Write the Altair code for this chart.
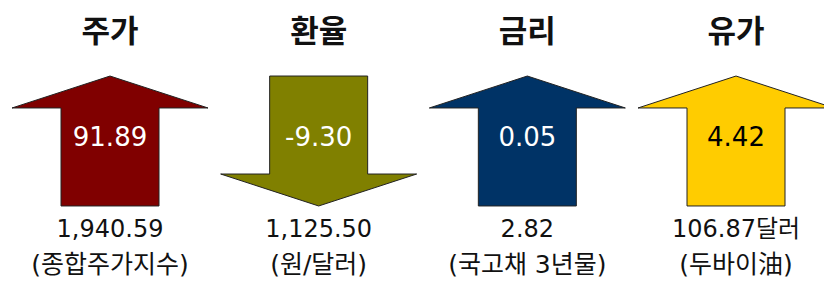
import altair as alt
import pandas as pd

names = ["주가", "환율", "금리", "유가"]
changes = [91.89, -9.30, 0.05, 4.42]
change_labels = ["91.89", "-9.30", "0.05", "4.42"]
levels = ["1,940.59", "1,125.50", "2.82", "106.87달러"]
units = ["(종합주가지수)", "(원/달러)", "(국고채 3년물)", "(두바이油)"]
fill_colors = ["#800000", "#808000", "#003366", "#FFCC00"]
text_colors = ["#ffffff", "#ffffff", "#ffffff", "#000000"]

df = pd.DataFrame({
    "idx": list(range(len(names))),
    "name": names,
    "change": changes,
    "change_label": change_labels,
    "level": levels,
    "unit": units,
    "dir": ["up" if c >= 0 else "down" for c in changes],
})

UP = "M0,-0.663L1,-0.337L0.5,-0.337L0.5,0.663L-0.5,0.663L-0.5,-0.337L-1,-0.337Z"
DOWN = "M0,0.663L1,0.337L0.5,0.337L0.5,-0.663L-0.5,-0.663L-0.5,0.337L-1,0.337Z"

TFONT = "DejaVu Sans, Noto Sans CJK KR"
LFONT = "DejaVu Sans, Noto Sans CJK KR"
x = alt.X("idx:Q", scale=alt.Scale(domain=[0, 3], range=[102, 728]), axis=None)

base = alt.Chart(df)

arrows = base.mark_point(filled=True, opacity=1, stroke="#222222", strokeWidth=1).encode(
    x=x,
    y=alt.value(133),
    shape=alt.Shape("dir:N", scale=alt.Scale(domain=["up", "down"], range=[UP, DOWN]), legend=None),
    fill=alt.Fill("name:N", scale=alt.Scale(domain=names, range=fill_colors), legend=None),
    size=alt.value(196 * 196),
)

titles = base.mark_text(font=TFONT, fontSize=31, fontWeight="bold", baseline="middle", color="#111111").encode(
    x=x, y=alt.value(25), text="name:N"
)

vals = base.mark_text(font=LFONT, fontSize=26, baseline="middle").encode(
    x=x, y=alt.value(130), text="change_label:N",
    color=alt.Color("name:N", scale=alt.Scale(domain=names, range=text_colors), legend=None),
)

lv = base.mark_text(font=LFONT, fontSize=24, baseline="middle", color="#111111").encode(
    x=x, y=alt.value(222), text="level:N"
)

un = base.mark_text(font=LFONT, fontSize=25, baseline="middle", color="#111111").encode(
    x=x, y=alt.value(257), text="unit:N"
)

chart = alt.layer(arrows, titles, vals, lv, un).properties(
    width=816, height=270, padding=0, autosize=alt.AutoSizeParams(type="none")
).configure_view(strokeWidth=0, stroke="transparent")

chart.save("out.html", embed_options={"renderer": "svg", "actions": False})
